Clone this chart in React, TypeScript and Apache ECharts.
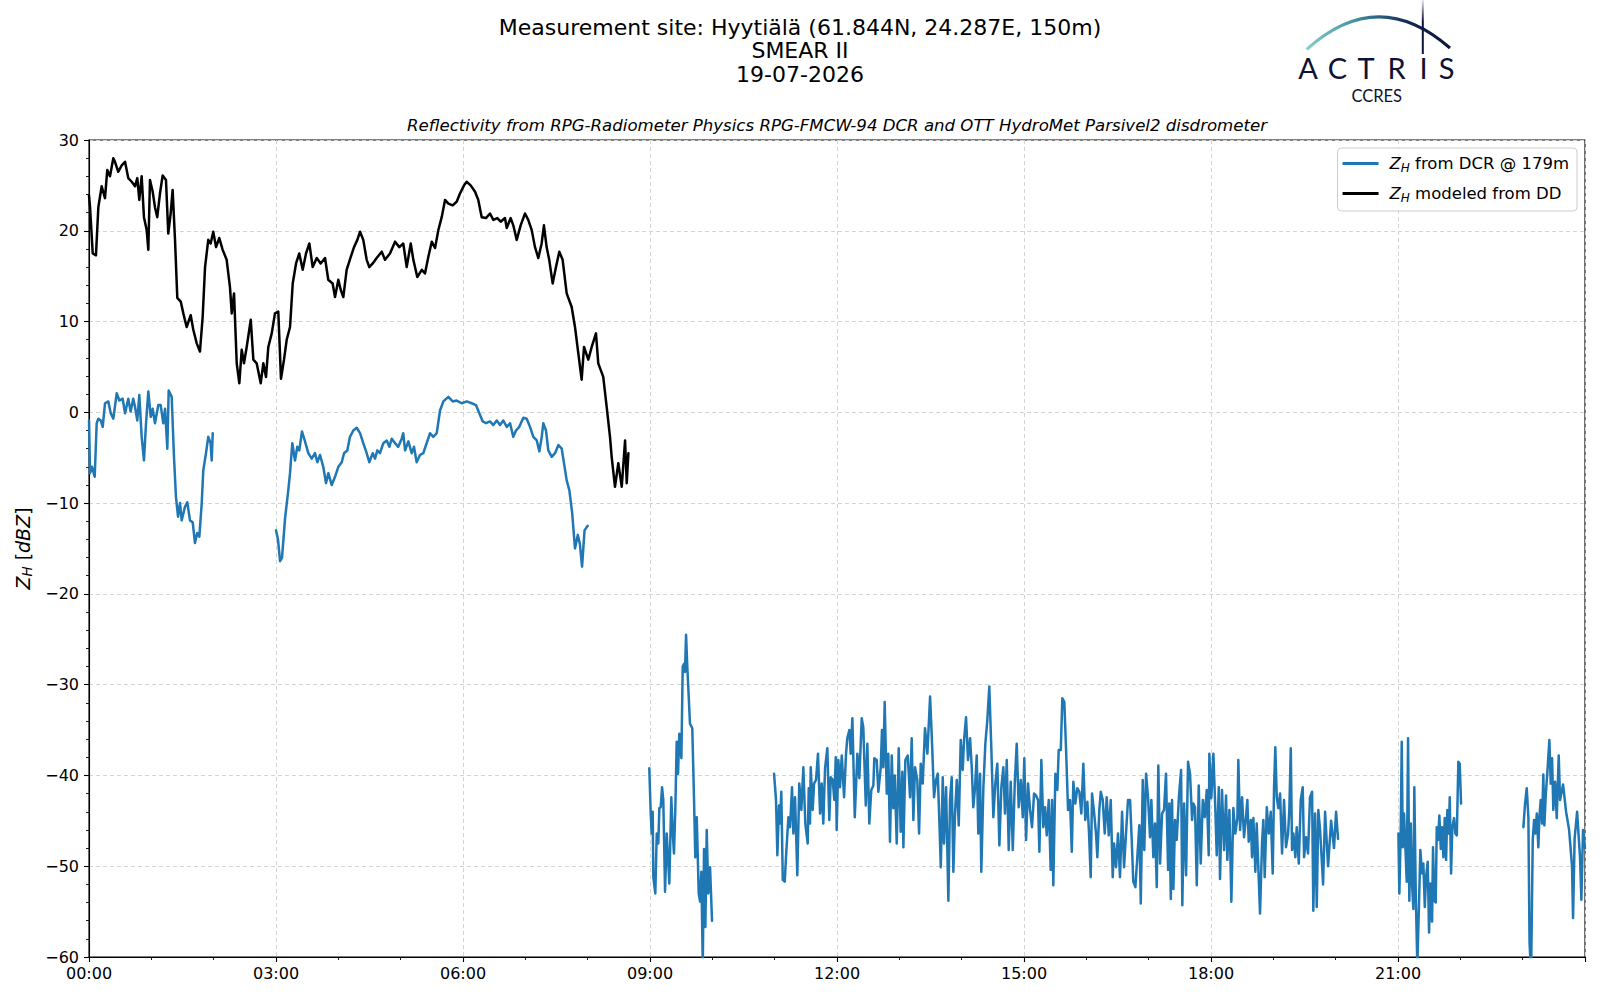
import React, { useEffect, useRef } from "react";
import * as echarts from "echarts";

// ---- data: time in minutes since 00:00, reflectivity in dBZ ----
const xTickInterval = 180;
const yTicks = { min: -60, max: 30, interval: 10 };

const ddModeled: [number, number][] = [
  [0,23.9],[1,22.6],[3.6,17.5],[6.7,17.3],[9,22.6],[12.2,24.9],[15.4,23.6],[17.6,26.7],[20.2,26.0],[23.4,28.0],[25,27.6],[28.2,26.5],[31.5,27.2],[34.7,27.6],[37.8,25.8],[41.1,25.4],[44.3,24.9],[46.5,25.8],[48.4,23.4],[50.7,26.0],[52.9,21.5],[55.5,20.1],[57.1,17.9],[58.7,25.6],[61.3,24.3],[63.5,22.6],[65.7,21.5],[68.3,24.1],[70.9,26.1],[74.1,25.6],[76.3,19.7],[78.6,21.9],[80.5,24.5],[82.8,19.0],[85,12.6],[88.3,12.2],[90.8,10.9],[94,9.4],[97.9,10.7],[100.4,9.1],[103.7,7.6],[106.8,6.7],[109.4,10.5],[111.7,16.0],[114.8,19.0],[117.1,18.6],[119.6,19.9],[122.3,18.2],[125.4,19.2],[128.7,17.9],[132.5,16.8],[135.7,13.8],[137.4,10.9],[139.6,13.1],[142.2,5.4],[144.7,3.2],[147,6.9],[149.2,5.4],[151.8,7.2],[155.7,10.2],[158.2,5.8],[161.4,5.4],[165.3,3.2],[167.8,5.4],[170.4,3.9],[172.6,7.2],[175.9,8.7],[179,10.9],[182.2,11.1],[184.8,3.7],[187.7,5.8],[190.3,8.0],[193.5,9.4],[196.1,14.2],[199.3,16.4],[202.4,17.5],[205.7,15.7],[208.9,17.5],[212.1,18.6],[215.3,16.0],[219.2,17.0],[223,16.4],[227.2,17.0],[230.3,14.6],[234.5,14.2],[236.8,12.7],[240,14.6],[242.3,13.5],[244.8,12.7],[248,15.7],[251.9,17.1],[255.1,18.2],[258.3,19.0],[260.9,19.9],[264,19.0],[267.3,16.8],[269.8,16.0],[273.1,16.4],[276.9,17.0],[281.8,17.7],[284.9,16.8],[289.7,17.5],[294.6,18.8],[298.7,18.2],[302.5,18.6],[305.8,16.0],[309.7,18.6],[312.2,16.8],[316,14.9],[320.3,15.7],[323.4,15.3],[326.6,17.1],[329.9,18.8],[333.1,18.1],[336.3,20.1],[339.5,21.5],[342.7,23.4],[345.9,23.0],[350.1,22.8],[353.9,23.2],[357.1,24.1],[361,25.0],[363.5,25.4],[367.4,25.0],[371.6,24.3],[374.7,23.4],[378,21.5],[382.1,21.4],[386,21.9],[389.2,21.2],[393,21.4],[396.3,21.0],[400.4,21.4],[402.1,20.3],[405.9,21.4],[408.4,20.6],[411.7,19.0],[415.5,20.6],[419.7,21.9],[422.8,21.2],[426.1,20.1],[429.3,18.2],[432.5,17.0],[435.7,18.6],[437.9,20.6],[440.5,18.2],[443,16.8],[446.3,14.2],[449.5,16.0],[452.7,17.7],[455.9,16.8],[459.8,13.1],[464.6,11.6],[467.8,9.4],[471,6.5],[474.2,3.6],[476.5,7.2],[480.6,5.8],[483.9,7.2],[488,8.7],[490.2,5.4],[495,3.9],[498.3,0.6],[501.5,-2.7],[503.1,-4.9],[506.3,-8.2],[509.5,-5.6],[512.8,-8.2],[516,-3.1],[517.6,-7.8],[519.2,-4.5]
];

const dcrPart1: [number, number][] = [
  [0,-0.9],[1,-6.7],[2.9,-6.0],[5.5,-7.1],[7.4,-1.2],[9,-0.7],[11.3,-0.9],[13.2,-1.6],[15.4,1.0],[18.6,1.2],[20.9,-0.1],[23.4,-0.7],[26.7,2.1],[29.2,1.3],[32.4,1.5],[34.7,-0.1],[37.8,1.5],[40.1,0.1],[42.6,1.5],[44.3,0.6],[46.5,-0.9],[48.4,1.9],[50.7,-2.7],[52.9,-5.3],[54.9,-1.2],[57.1,2.3],[59.4,-0.5],[61.3,0.4],[63.5,-1.2],[66.7,0.8],[69,0.8],[71.5,-1.2],[73.2,0.4],[75.4,-4.0],[76.7,2.4],[79.6,1.7],[81.8,-4.9],[83.7,-9.3],[85.7,-11.5],[87.6,-10.0],[89.2,-11.9],[92.4,-10.4],[94.6,-9.9],[97.2,-11.9],[99.8,-12.1],[102,-14.4],[104.2,-13.3],[106.2,-13.7],[108.5,-10.0],[110,-6.4],[112.6,-4.5],[114.8,-2.7],[117.1,-3.4],[118.1,-5.3],[119.1,-2.3]
];

const dcrPart2: [number, number][] = [
  [180,-13.0],[181.9,-14.0],[183.9,-16.4],[185.8,-16.0],[188.7,-11.7],[191.8,-8.6],[193.5,-6.7],[195.7,-3.4],[198.3,-5.3],[200.5,-3.8],[202.4,-4.2],[205,-2.1],[207.9,-3.2],[211.1,-4.5],[214.4,-5.1],[217.5,-4.5],[219.8,-5.5],[222.4,-4.7],[225.5,-6.0],[228.1,-7.8],[230.4,-6.7],[233.6,-8.0],[236.8,-7.1],[240,-6.0],[243.3,-5.5],[245.5,-4.5],[248.6,-4.2],[251.2,-2.7],[254.4,-2.0],[257.7,-1.7],[260.9,-2.3],[264,-3.4],[267.3,-4.5],[269.8,-5.5],[273.1,-4.5],[275.3,-5.1],[277.5,-4.2],[280.1,-4.5],[283.3,-3.4],[286.6,-3.1],[289.1,-3.8],[291.4,-2.9],[294.6,-3.4],[297.7,-3.8],[301,-2.9],[302.5,-2.3],[304.2,-4.2],[307.4,-3.2],[310.6,-4.5],[312.8,-3.8],[315.4,-5.5],[318.6,-4.7],[321.8,-4.5],[324.4,-3.6],[328.3,-2.3],[331.4,-2.7],[334.7,-2.3],[337.9,0.2],[341.1,1.2],[345.9,1.7],[350.1,1.2],[353.9,1.3],[358.8,1.0],[363.6,1.2],[368.4,1.0],[372.5,0.8],[375.7,-0.1],[379,-1.0],[382.2,-1.2],[386,-1.0],[389.2,-1.4],[392.5,-0.9],[395.6,-1.4],[398.8,-0.9],[402.1,-1.6],[405.3,-1.2],[408.4,-2.7],[411,-2.0],[414.2,-1.6],[418.1,-0.6],[421.3,-0.7],[424.5,-1.6],[427.7,-2.7],[431,-3.1],[433.5,-4.3],[435.8,-2.7],[437.3,-1.2],[439.9,-2.0],[442.1,-4.2],[445.4,-4.9],[448.6,-4.5],[451.8,-3.6],[455,-4.0],[457.2,-5.6],[459.8,-7.5],[462.4,-8.6],[465,-11.0],[467.8,-15.0],[470.5,-13.5],[472.5,-14.5],[474.6,-17.0],[477,-13.0],[480,-12.5]
];

const dcrPart3: [number, number][] = [
  [539.3,-39.2],[540.7,-44.2],[541.6,-46.4],[542.6,-44.0],[543.2,-51.2],[545.1,-53.0],[546.5,-46.4],[548,-47.5],[549,-43.6],[550.3,-43.5],[551.6,-41.3],[552.8,-42.7],[554.5,-52.8],[556.1,-46.4],[558.6,-51.9],[560.5,-42.4],[561.9,-46.4],[563.1,-48.6],[564.4,-43.5],[565.7,-36.3],[567,-39.8],[568.2,-35.4],[570.2,-38.1],[571.5,-28.0],[572.8,-27.7],[573.7,-28.6],[574.7,-24.5],[575.9,-28.0],[578.5,-34.3],[580.7,-34.8],[582.4,-42.7],[583.6,-49.0],[585,-44.6],[586.9,-53.0],[588.2,-53.9],[589.4,-50.6],[590.8,-61],[592,-48.1],[593.3,-56.7],[594.6,-46.0],[596.1,-53.0],[597.8,-50.1],[599.7,-56.0]
];

const dcrPart4: [number, number][] = [
  [659.4,-39.8],[661.3,-42.7],[662.6,-48.8],[664.2,-43.3],[665.2,-45.3],[666.4,-41.8],[667.8,-51.5],[669.7,-51.7],[670.9,-49.0],[673.2,-44.6],[674.8,-45.7],[676.7,-41.3],[678,-46.4],[679.6,-42.4],[681.8,-51.0],[683.7,-40.9],[685.7,-43.8],[687.6,-39.1],[689.5,-45.3],[691.8,-47.5],[692.8,-41.4],[694,-45.3],[694.7,-39.1],[696.6,-43.8],[697.9,-40.9],[699.8,-40.5],[701.7,-37.6],[703.7,-44.2],[705.3,-40.9],[706.8,-45.3],[708.5,-39.2],[710.7,-37.0],[712.6,-44.9],[714,-40.2],[715.9,-40.5],[717.4,-42.7],[718.8,-38.0],[719.7,-46.0],[721.3,-38.3],[722.9,-41.3],[724.6,-37.8],[726.8,-42.4],[728.7,-37.6],[729.9,-35.9],[731.9,-35.0],[733.2,-37.6],[734.8,-33.7],[737.1,-44.6],[739.6,-37.6],[741.5,-40.3],[743.8,-33.7],[745.3,-34.7],[747.7,-43.3],[749.2,-36.5],[751.1,-45.3],[753,-41.6],[755,-41.1],[755.9,-38.1],[758.2,-38.3],[759.8,-41.8],[762.1,-39.1],[763.3,-35.0],[764.6,-39.1],[765.9,-31.9],[767.9,-42.0],[769.4,-37.6],[771,-47.3],[772.7,-37.8],[774.2,-43.6],[775.6,-40.0],[777.5,-47.5],[779.4,-37.0],[781.3,-46.2],[782.9,-39.6],[783.9,-47.9],[785.8,-38.3],[788.1,-37.8],[790.3,-42.4],[791.9,-35.9],[793.5,-44.9],[795.1,-39.1],[797.3,-40.5],[799,-46.4],[800.6,-38.7],[802.5,-40.9],[804.7,-34.8],[807,-37.6],[809.6,-31.3],[811.5,-36.5],[813.4,-42.4],[815.3,-40.5],[817,-39.8],[818.5,-44.9],[819.9,-50.1],[821.8,-40.2],[823,-47.5],[825,-41.3],[827.2,-53.8],[828.8,-42.7],[830.4,-40.2],[832,-50.6],[833.6,-44.2],[835.3,-40.5],[837.2,-45.5],[839.1,-36.1],[841,-39.4],[842.3,-36.1],[844.2,-33.6],[846.1,-38.3],[848.1,-35.9],[849.7,-39.1],[851.2,-43.5],[852.9,-41.3],[854.5,-37.8],[856,-46.4],[857.7,-39.8],[858.9,-50.6],[860.9,-41.3],[862.8,-36.5],[864.7,-33.9],[866.6,-30.2],[868.6,-37.2],[870.5,-44.6],[872.4,-40.9],[874.3,-38.7],[876.3,-47.7],[878.2,-41.3],[880.1,-39.1],[881.7,-44.2],[883.4,-38.3],[885.3,-48.2],[887.2,-40.7],[889.2,-48.2],[891.1,-40.9],[893,-36.5],[894.9,-43.5],[896.9,-40.5],[898.8,-44.6],[900.3,-38.1],[902,-47.1],[903.9,-40.9],[905.8,-43.8],[907.7,-45.7],[909.7,-42.0],[911.6,-42.2],[913.5,-42.7],[914.8,-48.4],[916.7,-38.3],[918.6,-45.7],[920.3,-43.5],[921.9,-46.6],[923.8,-42.7],[925.7,-50.4],[927,-42.7],[928.2,-52.1],[930.2,-39.8],[932.1,-41.6],[933.4,-37.2],[935.4,-37.2],[936.9,-31.5],[938.8,-31.9],[940.5,-37.2],[942.4,-43.8],[944.3,-42.7],[946,-48.4],[947.5,-40.7],[949.4,-43.1],[951.3,-41.4],[953.3,-41.8],[955.2,-44.2],[957.1,-38.7],[959,-44.9],[961,-42.9],[962.6,-46.4],[964.2,-51.2],[965.5,-42.0],[967.4,-44.0],[969.3,-46.4],[970.6,-49.0],[972.5,-43.8],[973.9,-41.8],[975.8,-42.7],[977.7,-46.4],[979.6,-42.4],[981.6,-46.6],[983.5,-42.7],[985.4,-51.2],[986.7,-47.5],[988.6,-50.1],[990.5,-46.4],[992.4,-51.2],[994.4,-44.0],[996.3,-50.1],[998.2,-46.4],[1000.1,-42.7],[1002.1,-42.7],[1003.7,-47.1],[1005.2,-51.7],[1007.2,-52.3],[1009.1,-49.0],[1011,-45.5],[1012.4,-54.1],[1014.3,-40.5],[1015.8,-48.2],[1017.5,-39.8],[1019.4,-42.4],[1021.3,-46.8],[1022.6,-42.7],[1024.5,-49.0],[1026.1,-45.3],[1027.8,-52.3],[1029.3,-38.9],[1031,-49.7],[1032.9,-44.2],[1034.8,-43.8],[1036.7,-39.8],[1038.7,-50.4],[1039.9,-43.1],[1041.3,-53.6],[1042.5,-42.7],[1043.8,-52.5],[1045.4,-44.9],[1047,-47.1],[1049.2,-42.2],[1051.2,-39.4],[1052.4,-54.3],[1054.1,-43.1],[1056,-51.0],[1057.9,-38.5],[1059.8,-39.8],[1061.8,-44.9],[1063,-43.1],[1064.6,-43.5],[1066.3,-52.1],[1068.2,-41.1],[1070.1,-49.7],[1072.1,-42.7],[1074,-44.6],[1075.9,-41.6],[1077.8,-48.8],[1078.4,-37.6],[1080.3,-42.5],[1082.3,-37.6],[1084.2,-43.8],[1085.5,-48.8],[1087.5,-41.3],[1088.7,-51.4],[1090.6,-41.6],[1092.6,-48.2],[1094.5,-42.2],[1095.7,-49.3],[1097.7,-43.8],[1099.6,-53.9],[1101.5,-43.6],[1103.4,-46.4],[1105.4,-44.7],[1106.3,-38.3],[1108,-46.0],[1109.9,-42.4],[1111.8,-46.8],[1113.7,-44.6],[1115,-42.7],[1116.3,-47.3],[1118.3,-44.9],[1119.5,-49.0],[1120.8,-44.7],[1122.7,-50.6],[1124,-45.3],[1126,-51.5],[1127.2,-55.2],[1129.1,-47.5],[1130.4,-44.9],[1131.7,-51.2],[1133.7,-43.5],[1135.6,-46.4],[1137.5,-44.0],[1139.4,-50.8],[1140.7,-41.3],[1141.9,-36.9],[1143.3,-42.4],[1144.8,-43.6],[1146.5,-42.0],[1148.4,-48.6],[1150.3,-42.7],[1152.2,-47.9],[1154.2,-46.4],[1155.4,-43.8],[1156.8,-37.0],[1158,-48.2],[1159.3,-46.4],[1161.2,-49.0],[1162.5,-45.7],[1164.5,-49.7],[1166.4,-42.7],[1168.3,-41.3],[1169.6,-49.0],[1171.5,-46.8],[1173.4,-48.6],[1175.3,-42.4],[1177.3,-41.8],[1178.5,-54.9],[1180.2,-44.2],[1181.8,-54.5],[1183.3,-43.8],[1185,-46],[1187.9,-52],[1189.8,-44],[1192.7,-50],[1195.6,-45],[1198.4,-48],[1200.4,-44],[1202.3,-47]
];

const dcrPart5: [number, number][] = [
  [1260.4,-46.4],[1261.3,-53.0],[1262.6,-46.4],[1263.6,-36.3],[1264.6,-47.9],[1265.8,-44.2],[1267.1,-47.9],[1268.4,-51.7],[1269.7,-35.9],[1270.9,-53.8],[1272.3,-45.3],[1273.5,-51.9],[1274.8,-54.7],[1275.7,-41.3],[1277.1,-53.0],[1278.6,-61],[1280.3,-53.8],[1281.5,-48.2],[1283.2,-50.8],[1284.4,-49.7],[1285.8,-54.5],[1287,-51.2],[1288.6,-49.5],[1289.9,-57.3],[1291.1,-51.9],[1292.8,-56.1],[1293.7,-47.9],[1295,-53.8],[1296.3,-54.0],[1297.3,-45.7],[1298.6,-47.1],[1299.8,-44.4],[1301.2,-48.1],[1302.4,-45.7],[1303.7,-49.0],[1305,-44.7],[1306.3,-49.3],[1307.5,-43.8],[1308.9,-46.4],[1309.8,-42.4],[1311.1,-50.8],[1312.3,-45.7],[1314,-44.7],[1315.2,-46.4],[1316.6,-46.6],[1318.1,-38.5],[1319.4,-38.7],[1320.7,-43.1]
];

const dcrPart6: [number, number][] = [
  [1380.7,-45.7],[1382.3,-43.1],[1383.9,-41.4],[1385.5,-44.6],[1386.6,-58.3],[1388.1,-62],[1389.7,-47.1],[1391,-44.9],[1392.2,-46.4],[1393.6,-44.2],[1395.1,-47.9],[1396.1,-44.6],[1397.4,-42.7],[1398.7,-45.3],[1399.9,-39.9],[1400.9,-45.5],[1402.2,-42.2],[1403.8,-39.6],[1405.7,-36.1],[1407,-40.9],[1408.3,-38.1],[1409.5,-43.8],[1411.2,-40.7],[1412.8,-44.7],[1414.7,-37.8],[1416,-42.7],[1418.9,-41],[1421.8,-44],[1424.7,-46],[1427.5,-50],[1428.5,-55.7],[1430,-47],[1432.4,-44],[1435.2,-49],[1436.5,-53.7],[1438.1,-46],[1440,-48]
];

const dcrParts = [dcrPart1, dcrPart2, dcrPart3, dcrPart4, dcrPart5, dcrPart6];

const FONT = "DejaVu Sans";
const BLUE = "#1f77b4";
const NAVY = "#0e1236";
const LW = 2.5;

const fmtTime = (v: number) => {
  if (v >= 1440) return "";
  const h = Math.floor(v / 60);
  return `${String(h).padStart(2, "0")}:00`;
};
const fmtY = (v: number) => (v < 0 ? "\u2212" + Math.abs(v) : String(v));

export default function App() {
  const ref = useRef<HTMLDivElement>(null);
  useEffect(() => {
    document.body.style.margin = "0";
    if (!ref.current) return;
    const chart = echarts.init(ref.current, undefined, { renderer: "svg" });

    const lineCommon = {
      type: "line" as const,
      showSymbol: false,
      symbol: "none",
      clip: true,
      animation: false,
    };

    const series: any[] = dcrParts.map((part) => ({
      ...lineCommon,
      name: "DCR",
      data: part,
      lineStyle: { color: BLUE, width: LW, join: "round", cap: "round" },
      itemStyle: { color: BLUE },
    }));
    series.push({
      ...lineCommon,
      name: "DD",
      data: ddModeled,
      lineStyle: { color: "#000", width: LW, join: "round", cap: "round" },
      itemStyle: { color: "#000" },
    });

    const letters = [
      { t: "A", x: 1308 },
      { t: "C", x: 1337.5 },
      { t: "T", x: 1366 },
      { t: "R", x: 1396.5 },
      { t: "I", x: 1423.5 },
      { t: "S", x: 1446.5 },
    ];

    const option: any = {
      animation: false,
      backgroundColor: "#fff",
      textStyle: { fontFamily: FONT },
      grid: {
        left: 89,
        right: 15,
        top: 140,
        bottom: 43,
        show: true,
        borderColor: "#000",
        borderWidth: 1.1,
        backgroundColor: "transparent",
      },
      legend: {
        data: ["DCR", "DD"],
        orient: "vertical",
        right: 23,
        top: 148,
        icon: "rect",
        itemWidth: 36,
        itemHeight: 2.8,
        itemGap: 11,
        padding: [7, 8, 7, 5],
        borderColor: "#cccccc",
        borderWidth: 1,
        borderRadius: 4,
        backgroundColor: "rgba(255,255,255,0.8)",
        selectedMode: false,
        formatter: (name: string) =>
          name === "DCR"
            ? "{z|Z}{h|H}{t| from DCR @ 179m}"
            : "{z|Z}{h|H}{t| modeled from DD}",
        textStyle: {
          fontFamily: FONT,
          fontSize: 16.5,
          color: "#000",
          padding: [0, 0, 0, 6],
          rich: {
            z: { fontFamily: FONT, fontSize: 16.5, fontStyle: "italic", lineHeight: 21, color: "#000" },
            h: { fontFamily: FONT, fontSize: 12, fontStyle: "italic", lineHeight: 12, verticalAlign: "bottom", color: "#000" },
            t: { fontFamily: FONT, fontSize: 16.5, lineHeight: 21, color: "#000" },
          },
        },
      },
      xAxis: {
        type: "value",
        min: 0,
        max: 1440,
        interval: xTickInterval,
        axisLine: { show: true, onZero: false, lineStyle: { color: "#000", width: 1.1 } },
        axisTick: { show: true, length: 5, lineStyle: { color: "#000", width: 1.1 } },
        minorTick: { show: true, splitNumber: 3, length: 3, lineStyle: { color: "#000", width: 0.9 } },
        splitLine: { show: true, lineStyle: { color: "#d4d4d4", type: [4, 3], width: 1 } },
        axisLabel: {
          fontFamily: FONT,
          fontSize: 16,
          color: "#000",
          margin: 8,
          showMaxLabel: false,
          formatter: fmtTime,
        },
      },
      yAxis: {
        type: "value",
        min: yTicks.min,
        max: yTicks.max,
        interval: yTicks.interval,
        name: "{z|Z}{h|H}{t| [}{i|dBZ}{t|]}",
        nameLocation: "middle",
        nameRotate: 90,
        nameGap: 54,
        nameTextStyle: {
          fontFamily: FONT,
          fontSize: 19,
          color: "#000",
          rich: {
            z: { fontFamily: FONT, fontSize: 19, fontStyle: "italic", lineHeight: 22, color: "#000" },
            h: { fontFamily: FONT, fontSize: 13.5, fontStyle: "italic", lineHeight: 14, verticalAlign: "bottom", color: "#000" },
            t: { fontFamily: FONT, fontSize: 19, lineHeight: 22, color: "#000" },
            i: { fontFamily: FONT, fontSize: 19, fontStyle: "italic", lineHeight: 22, color: "#000" },
          },
        },
        axisLine: { show: true, onZero: false, lineStyle: { color: "#000", width: 1.1 } },
        axisTick: { show: true, length: 5, lineStyle: { color: "#000", width: 1.1 } },
        minorTick: { show: true, splitNumber: 5, length: 3, lineStyle: { color: "#000", width: 0.9 } },
        splitLine: { show: true, lineStyle: { color: "#d4d4d4", type: [4, 3], width: 1 } },
        axisLabel: {
          fontFamily: FONT,
          fontSize: 16,
          color: "#000",
          margin: 10,
          formatter: fmtY,
        },
      },
      graphic: [
        {
          type: "text",
          left: "center",
          top: 16,
          style: {
            text: "Measurement site: Hyytiälä (61.844N, 24.287E, 150m)\nSMEAR II\n19-07-2026",
            fontFamily: FONT,
            fontSize: 22,
            lineHeight: 23.2,
            fill: "#000",
            textAlign: "center",
          },
        },
        {
          type: "text",
          x: 837,
          y: 125,
          style: {
            text: "Reflectivity from RPG-Radiometer Physics RPG-FMCW-94 DCR and OTT HydroMet Parsivel2 disdrometer",
            fontFamily: FONT,
            fontSize: 16.6,
            fontStyle: "italic",
            fill: "#000",
            textAlign: "center",
            textVerticalAlign: "middle",
          },
        },
        {
          type: "bezierCurve",
          shape: { x1: 1306.7, y1: 49.3, cpx1: 1378, cpy1: -15, x2: 1450, y2: 48 },
          style: {
            fill: "none",
            lineWidth: 3,
            stroke: new echarts.graphic.LinearGradient(0, 0, 1, 0, [
              { offset: 0, color: "#82cfc8" },
              { offset: 0.35, color: "#3f8fa0" },
              { offset: 0.7, color: "#142a55" },
              { offset: 1, color: NAVY },
            ]),
          },
        },
        {
          type: "rect",
          shape: { x: 1421.8, y: 0, width: 2, height: 54 },
          style: {
            fill: new echarts.graphic.LinearGradient(0, 0, 0, 1, [
              { offset: 0, color: "rgba(14,18,54,0.1)" },
              { offset: 0.4, color: NAVY },
              { offset: 1, color: NAVY },
            ]),
          },
        },
        ...letters.map((l) => ({
          type: "text",
          x: l.x,
          y: 67,
          style: {
            text: l.t,
            fontFamily: "Lato",
            fontSize: 29,
            fill: NAVY,
            textAlign: "center",
            textVerticalAlign: "middle",
          },
        })),
        {
          type: "text",
          x: 1376.7,
          y: 95.5,
          style: {
            text: "CCRES",
            fontFamily: "Lato",
            fontSize: 16.5,
            fill: NAVY,
            textAlign: "center",
            textVerticalAlign: "middle",
          },
        },
      ],
      series,
    };

    chart.setOption(option);
    return () => chart.dispose();
  }, []);

  return (
    <div
      ref={ref}
      style={{ position: "fixed", left: 0, top: 0, width: 1600, height: 1000, background: "#fff" }}
    />
  );
}
